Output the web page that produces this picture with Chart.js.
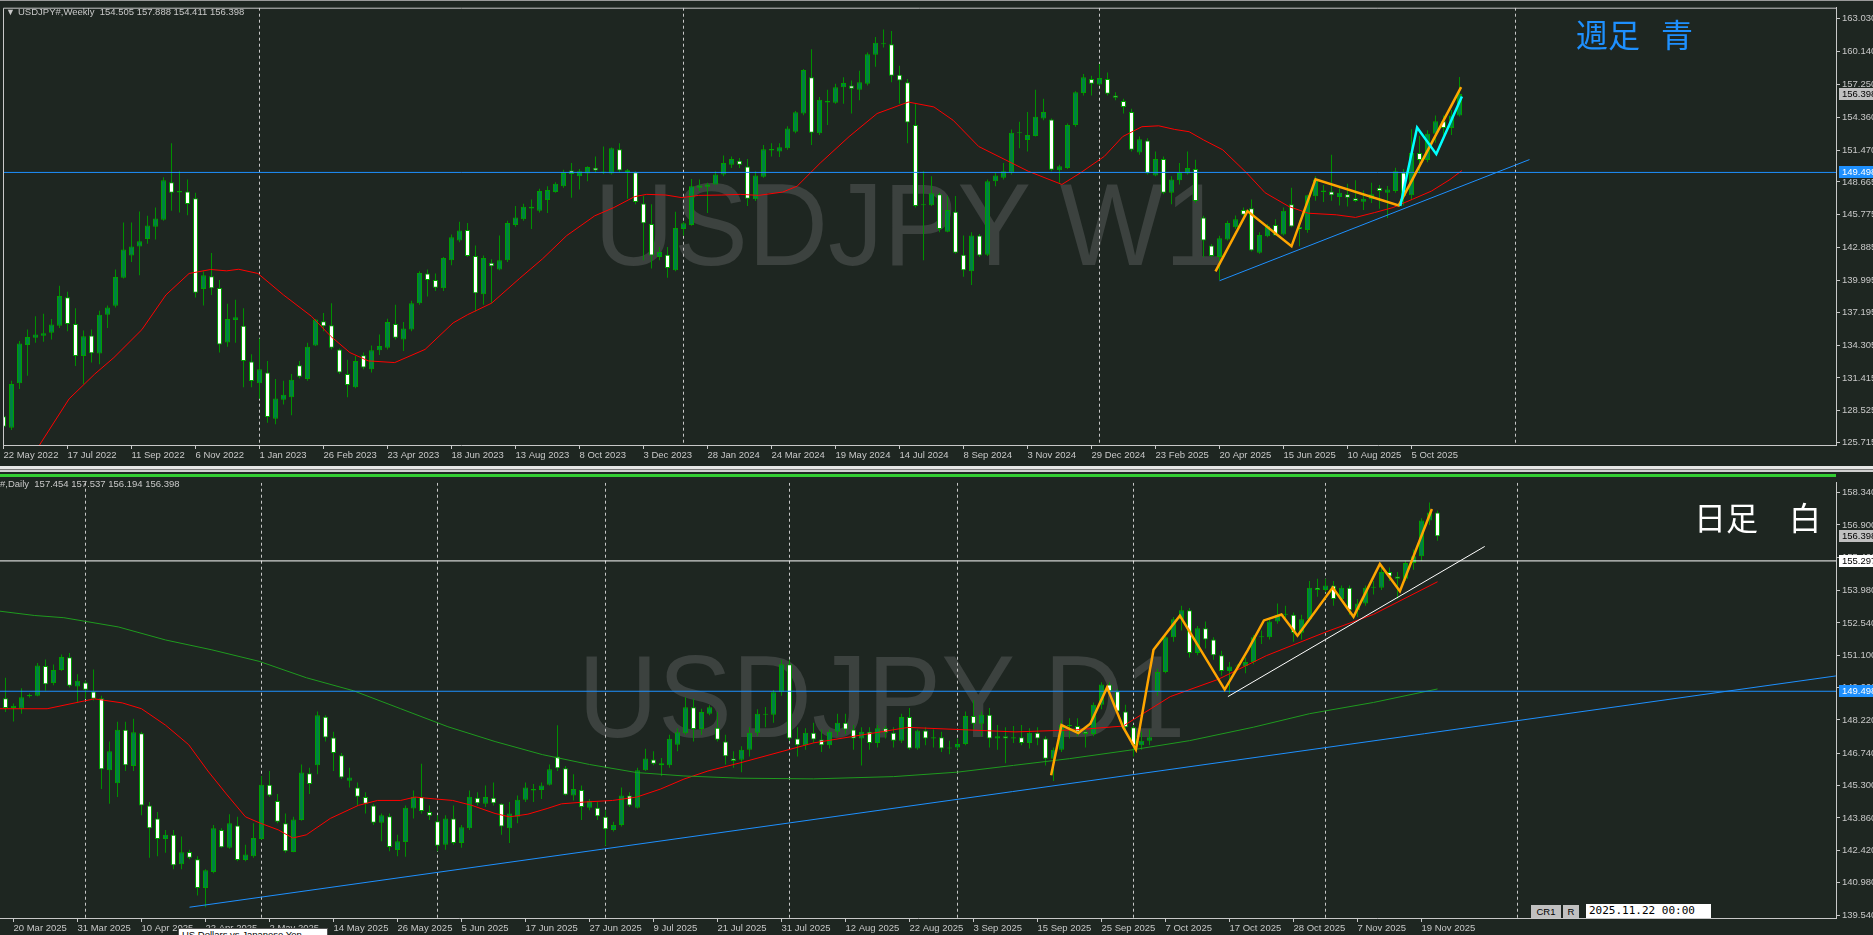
<!DOCTYPE html>
<html>
<head>
<meta charset="utf-8">
<script src="https://cdn.jsdelivr.net/npm/chart.js@4.4.1/dist/chart.umd.min.js"></script>
<style>
html, body { margin: 0; padding: 0; background: #1e2621; overflow: hidden; }
#wrap { position: relative; width: 1873px; height: 935px; background: #1e2621; overflow: hidden; }
canvas { position: absolute; left: 0; z-index: 1; }
.t { position: absolute; white-space: pre; z-index: 2; font-family: "Liberation Sans", Arial, sans-serif; font-size: 9.5px; line-height: 12px; color: #c8c8c8; }
.wm { position: absolute; white-space: pre; z-index: 0; font-family: "Liberation Sans", Arial, sans-serif; font-size: 116px; line-height: 116px; color: #3c423f; transform: scaleX(0.955); transform-origin: 0 0; }
.jp { position: absolute; white-space: pre; z-index: 2; font-family: "Noto Sans CJK JP", sans-serif; font-size: 32px; line-height: 32px; }
.bar { position: absolute; left: 0; z-index: 2; }
</style>
</head>
<body>
<div id="wrap">
  <div class="wm" style="left:594px; top:167px;">USDJPY W1</div>
  <div class="wm" style="left:578px; top:639px;">USDJPY D1</div>

  <canvas id="weekly" width="1873" height="465" style="top:0px;"></canvas>
  <canvas id="daily" width="1873" height="460" style="top:475px;"></canvas>

  <div class="bar" style="top:0px; width:1873px; height:1px; background:#9a9a9a;"></div>
  <div class="bar" style="top:466px; width:1873px; height:3px; background:#e6e6e6;"></div>
  <div class="bar" style="top:469px; width:1873px; height:1px; background:#7a7a7a;"></div>
  <div class="bar" style="top:470px; width:1873px; height:2px; background:#cfcfcf;"></div>
  <div class="bar" style="top:474px; width:1836px; height:3px; background:#32cd32;"></div>

  <div class="t" style="left:6px; top:6px; font-size:9px;">▼</div>
  <div class="t" style="left:18px; top:6px;">USDJPY#,Weekly  154.505 157.888 154.411 156.398</div>
  <div class="t" style="left:0px; top:478px;">#,Daily  157.454 157.537 156.194 156.398</div>

  <div class="jp" style="left:1576px; top:17px; color:#1e90ff;">週足</div>
  <div class="jp" style="left:1661px; top:17px; color:#1e90ff;">青</div>
  <div class="jp" style="left:1694px; top:500px; color:#ffffff;">日足</div>
  <div class="jp" style="left:1789px; top:500px; color:#ffffff;">白</div>

  <div class="t" style="left:1531px; top:905px; width:30px; height:13px; background:#c0c0c0; color:#000; text-align:center; line-height:13px;">CR1</div>
  <div class="t" style="left:1563px; top:905px; width:16px; height:13px; background:#c0c0c0; color:#000; text-align:center; line-height:13px;">R</div>
  <div class="t" style="left:1586px; top:904px; width:125px; height:14px; background:#ffffff; color:#000; font-family:'DejaVu Sans Mono', monospace; font-size:11px; line-height:14px; padding-left:3px; box-sizing:border-box;">2025.11.22 00:00</div>
  <div class="t" style="left:178px; top:928px; width:150px; height:14px; background:#ffffff; border:1px solid #555; color:#000; line-height:12px; padding-left:3px; box-sizing:border-box;">US Dollars vs Japanese Yen</div>
</div>

<script>
// ---- weekly candles (index 0 = week of 22 May 2022) ----
const wOpen = [128.05,127.03,130.95,134.31,134.95,135.12,135.39,136.02,138.52,136.17,
133.35,135.15,133.56,136.98,137.76,140.23,142.20,142.99,143.65,144.73,
145.34,148.64,147.74,147.83,147.22,139.24,140.37,139.33,134.54,136.52,
136.02,132.86,130.95,131.90,127.84,129.49,129.73,132.54,131.32,134.28,
136.40,136.05,133.93,131.76,130.60,133.41,132.19,133.85,134.08,136.17,
134.80,135.67,137.99,140.61,140.03,139.30,141.77,143.51,144.44,142.14,
138.78,141.56,140.96,141.77,144.87,145.39,146.47,146.12,147.08,147.77,
148.29,149.66,149.17,149.40,149.92,149.57,149.40,151.54,149.54,149.51,
146.76,144.96,142.06,142.26,140.90,144.52,144.87,148.15,148.23,148.44,
149.31,150.18,150.53,150.03,147.13,149.11,151.43,151.34,151.63,153.08,
154.68,157.87,152.94,155.66,155.63,156.99,157.14,156.77,157.29,159.84,
160.77,160.77,158.10,157.43,153.66,146.61,146.61,147.57,144.29,146.03,
142.26,140.81,143.94,142.26,148.73,149.02,149.46,152.94,152.36,152.70,
154.24,154.15,149.69,149.89,153.66,156.48,157.72,157.23,157.72,156.27,
155.78,154.82,151.25,152.30,149.22,150.67,147.71,148.81,149.40,149.80,
145.54,143.07,142.06,143.59,144.67,146.20,146.34,142.43,143.88,144.87,
144.04,146.70,144.70,144.44,147.40,147.90,147.83,147.33,147.57,147.22,
146.93,147.13,148.15,147.70,147.86,149.50,147.50,151.20,150.60,152.90,
154.00,153.40,154.505];
const wHigh = [128.29,131.18,134.66,135.67,136.84,137.07,136.60,139.53,139.01,137.56,
135.59,135.67,137.33,137.79,140.96,145.10,145.10,146.06,145.68,146.41,
149.08,152.07,149.60,148.87,147.71,140.81,142.41,140.03,137.94,138.29,
137.56,133.50,134.89,132.92,131.32,131.18,131.76,132.92,134.51,136.60,
137.13,137.99,134.02,133.01,133.35,133.65,134.28,135.24,136.63,137.85,
136.34,138.20,140.81,140.96,140.61,142.06,144.03,145.16,145.05,143.07,
142.20,141.85,143.94,145.25,146.55,146.75,147.12,148.06,148.29,148.64,
149.74,150.33,149.80,150.04,150.91,151.78,151.69,152.07,149.80,149.60,
147.42,146.70,142.93,142.93,146.03,145.16,148.93,148.87,148.58,149.60,
150.99,150.91,150.76,150.67,149.60,151.92,152.07,152.07,153.57,154.91,
158.59,160.33,156.13,156.77,157.29,157.87,157.58,158.45,160.04,161.41,
162.07,161.93,158.88,157.72,155.55,149.60,149.17,147.71,147.42,147.42,
143.94,144.23,144.09,148.87,149.46,150.33,153.28,153.95,154.82,156.77,
155.98,154.24,150.18,153.81,156.65,158.16,158.01,159.03,158.30,156.56,
155.98,155.11,152.65,152.50,151.34,150.91,149.17,150.33,151.34,150.62,
145.68,143.20,143.92,145.25,145.70,146.41,147.12,144.23,144.96,145.39,
146.41,148.15,145.30,147.54,149.17,148.40,151.05,148.10,148.50,148.80,
147.90,148.60,148.40,148.30,149.90,149.80,153.30,152.70,153.20,154.50,
154.50,155.00,157.888];
const wLow = [126.54,126.83,130.45,131.61,134.51,134.60,134.80,135.82,135.53,132.48,
130.89,132.77,132.63,135.82,137.62,140.17,141.62,140.46,143.22,143.59,
145.25,146.12,145.97,145.74,138.49,137.79,138.72,133.65,134.16,134.51,
130.60,130.60,129.58,127.47,127.35,129.09,128.13,131.38,131.18,134.22,
135.53,133.93,131.76,129.73,130.51,132.19,131.90,133.44,133.93,134.80,
133.79,135.53,137.85,138.58,139.07,139.07,141.33,143.36,142.06,137.27,
137.85,137.99,140.90,141.62,144.73,145.25,144.52,145.97,145.92,147.71,
148.15,147.28,148.00,148.73,149.46,149.37,149.31,149.46,147.19,146.70,
141.77,141.04,141.77,140.23,140.81,143.94,144.81,147.86,145.92,148.44,
149.17,149.89,149.89,146.55,146.99,149.02,150.91,150.85,151.49,152.94,
154.53,151.92,152.79,153.66,155.55,155.55,154.68,155.84,157.14,158.80,
160.48,157.43,155.55,152.07,146.41,141.77,146.55,144.23,144.23,142.35,
140.32,139.59,142.06,142.14,148.29,148.87,149.31,151.63,151.34,152.65,
154.09,149.60,148.58,149.80,153.52,156.27,156.27,157.14,156.27,155.84,
154.68,151.34,151.05,149.31,149.17,147.57,146.70,148.44,149.31,146.84,
142.06,142.06,140.03,143.51,144.52,145.68,142.55,142.35,143.80,143.94,
143.94,144.67,143.00,144.20,147.00,146.90,147.00,146.60,146.50,146.90,
146.20,146.80,146.30,145.50,147.70,146.60,147.10,149.40,150.40,152.10,
152.80,152.80,154.411];
const wClose = [127.12,130.89,134.46,135.01,135.24,135.36,136.11,138.63,136.17,133.35,
135.09,133.59,136.98,137.62,140.29,142.72,142.99,143.45,144.84,145.45,
148.82,147.71,147.86,146.73,138.92,140.46,139.30,134.37,136.60,136.75,
132.92,131.15,132.19,127.99,129.60,129.93,131.26,131.53,134.16,136.55,
135.96,134.08,131.90,130.80,132.92,132.34,133.85,134.22,136.34,134.95,
135.76,137.99,140.66,140.03,139.36,141.97,143.80,144.38,142.14,138.87,
141.97,141.24,141.77,145.05,145.54,146.49,146.32,147.86,147.95,148.50,
149.45,149.37,149.60,149.98,149.66,149.46,151.63,149.66,149.69,146.90,
145.02,142.20,142.49,141.10,144.61,145.02,148.29,148.35,148.44,149.31,
150.33,150.67,150.18,147.19,149.22,151.54,151.57,151.72,153.37,154.79,
158.51,152.99,155.90,155.78,156.99,157.37,156.85,157.43,159.90,160.91,
160.83,158.01,157.58,153.89,146.55,146.70,147.66,144.52,146.20,142.43,
140.90,143.94,142.20,148.73,149.22,149.60,152.99,152.99,152.79,154.39,
154.82,149.74,150.04,153.66,156.56,157.87,157.29,157.81,156.42,156.07,
155.26,151.49,152.41,149.40,150.67,147.71,148.87,149.45,149.89,146.99,
143.51,142.14,143.71,145.05,145.39,145.77,142.64,144.00,144.81,143.94,
146.12,144.75,144.50,147.48,148.88,147.77,147.48,147.70,147.28,146.99,
147.19,147.57,147.86,148.00,149.60,147.40,151.20,150.60,152.90,154.00,
153.40,154.50,156.398];

// weekly moving average (red) as [bar, price]
const wMA = [[2,122.8],[4.5,125.52],[8.2,129.58],[11.4,131.76],[13.8,133.21],[17.3,135.67],[20.3,138.72],
[23.2,140.61],[25.9,140.96],[27.9,140.84],[29.4,140.98],[31.8,140.61],[35,138.72],[38.5,136.84],
[40.9,135.09],[43.3,133.65],[45.6,132.92],[48.9,132.77],[52.7,133.93],[56.2,136.26],[58,136.98],
[61,137.99],[64.5,140.17],[67.4,141.91],[70.4,143.94],[73.9,145.68],[76.3,146.41],[78.9,147.37],
[80.4,147.57],[82.8,147.51],[84.8,147.28],[86.9,147.48],[89.8,147.51],[92.1,147.57],[94.4,147.48],
[97.4,147.77],[99.2,148.29],[102.1,150.33],[105.7,152.65],[109.2,154.68],[113.1,155.69],[116.3,155.26],
[118.7,154.09],[121.9,151.78],[125.2,150.62],[128.1,149.60],[132.3,148.44],[134.6,149.45],[137.6,150.91],
[139.9,152.65],[142.3,153.52],[144.4,153.60],[146.4,153.28],[148.2,153.08],[150,152.36],[152.4,151.49],
[155.4,149.45],[157.7,147.71],[160.7,146.49],[163.1,145.91],[166.6,145.77],[169,145.54],[171.4,145.97],
[173.7,146.41],[176.1,147.13],[178.5,147.86],[180.8,148.87],[182.3,149.66]];
const wZigOrange = [[151.5,140.8],[155.5,146.1],[161.0,143.0],[164.0,148.9],[174.4,146.6],[182.2,157.0]];
const wZigCyan = [[174.6,146.55],[176.7,153.46],[179.1,151.11],[182.3,156.18]];
const wTrend = [[152,139.97],[190.75,150.63]];
const wTickIdx = [0,8,16,24,32,40,48,56,64,72,80,88,96,104,112,120,128,136,144,152,160,168,176];
const wTickLabels = ['22 May 2022','17 Jul 2022','11 Sep 2022','6 Nov 2022','1 Jan 2023','26 Feb 2023',
'23 Apr 2023','18 Jun 2023','13 Aug 2023','8 Oct 2023','3 Dec 2023','28 Jan 2024','24 Mar 2024',
'19 May 2024','14 Jul 2024','8 Sep 2024','3 Nov 2024','29 Dec 2024','23 Feb 2025','20 Apr 2025',
'15 Jun 2025','10 Aug 2025','5 Oct 2025'];
const wPriceTicks = [163.030,160.140,157.250,154.360,151.470,148.665,145.775,142.885,139.995,137.195,134.305,131.415,128.525,125.715];
const wYearGrid = [32,85,137,189];

// ---- daily candles (index 0 = bar labelled 20 Mar 2025, first bar is -1) ----
const dStart = -1;
const dOpen = [149.19,148.75,148.72,149.28,149.30,150.62,149.86,150.44,151.01,149.71,
149.89,149.49,149.19,145.98,145.40,147.78,146.17,147.63,144.42,143.84,
142.92,143.11,141.80,142.35,142.02,140.74,141.46,143.33,142.53,143.52,
141.99,142.16,142.93,145.34,144.61,143.62,142.35,143.77,145.85,146.21,
148.36,147.44,146.65,145.52,145.22,144.79,144.42,143.65,143.94,142.43,
142.79,144.28,144.79,144.13,143.72,142.67,143.84,142.75,143.40,144.76,
144.49,144.76,144.49,143.40,143.91,144.67,145.15,145.11,145.34,146.59,
146.07,144.86,145.11,144.32,144.31,143.91,143.33,143.55,144.86,144.32,
145.98,146.46,146.30,146.21,147.12,147.63,148.79,147.82,148.50,147.88,
147.26,146.51,
146.45,146.90,147.65,148.50,148.45,149.45,150.70,147.40,147.10,147.65,
147.35,147.10,147.70,148.10,147.80,147.40,147.70,147.20,147.85,147.65,
147.30,148.35,146.95,147.75,147.40,147.45,146.95,147.00,147.15,148.40,
148.05,148.45,147.40,147.50,147.40,147.45,147.20,147.65,147.40,146.50,
146.90,148.00,147.95,147.70,147.60,148.90,149.80,149.50,148.60,147.90,
147.10,147.30,149.50,150.35,151.90,152.70,153.10,151.20,152.30,151.80,
151.10,150.40,150.60,150.62,150.80,151.90,151.90,152.60,152.90,152.90,
152.10,152.70,154.10,154.00,154.20,153.60,154.10,153.10,153.40,154.10,
154.10,154.80,154.60,154.50,155.20,155.50,157.10,157.454];
const dHigh = [150.10,148.95,149.63,149.40,150.76,150.91,150.69,151.13,151.20,150.25,
149.96,150.47,149.30,147.26,148.14,148.14,148.28,147.70,144.57,144.13,
143.33,143.33,143.04,142.45,142.16,141.58,143.55,143.40,144.03,143.91,
142.67,143.62,145.73,145.95,144.93,144.06,143.91,146.24,146.10,148.60,
148.43,147.70,146.75,146.10,145.44,145.00,144.49,144.06,144.06,143.11,
144.42,145.08,146.27,144.42,143.98,143.98,144.42,143.55,145.08,145.00,
145.30,145.44,144.52,144.57,144.86,145.44,145.37,145.44,146.24,147.99,
146.17,145.81,145.30,144.71,144.57,144.20,143.69,145.22,145.00,146.10,
146.94,146.83,146.53,147.56,147.85,149.23,149.16,148.72,148.87,148.58,
147.56,146.83,
147.05,147.90,148.70,148.80,149.55,150.90,150.90,147.90,147.85,148.10,
147.80,147.80,148.50,148.50,148.00,147.90,147.90,148.00,147.95,147.90,
148.50,148.75,147.80,147.90,147.80,147.70,147.30,147.40,148.60,149.10,
148.60,148.75,148.00,147.90,147.95,148.00,147.85,147.90,147.50,147.00,
148.20,148.30,148.30,147.90,149.00,149.90,149.90,149.60,148.90,148.00,
147.70,147.80,150.50,152.00,152.80,153.30,153.20,152.40,152.60,151.90,
151.30,150.80,150.70,151.00,152.00,152.20,152.70,153.40,153.30,153.00,
152.90,154.40,154.50,154.50,154.40,154.20,154.20,153.60,154.20,154.40,
155.00,155.00,154.80,155.30,155.80,157.20,157.90,157.537];
const dLow = [148.58,148.15,148.50,149.22,149.28,149.52,149.77,150.40,149.67,149.01,
149.16,149.09,145.15,144.49,144.79,145.95,145.95,143.98,142.09,142.16,
142.31,141.58,141.58,142.02,140.41,139.89,141.40,142.53,142.49,141.94,
141.94,142.09,142.89,144.79,143.62,142.31,142.34,143.74,144.93,145.81,
147.26,145.95,145.59,145.22,144.42,144.06,143.55,142.82,142.38,142.16,
142.13,143.84,144.06,143.77,142.38,142.45,142.67,142.53,143.33,144.42,
144.35,144.42,143.11,142.75,143.62,144.57,144.57,144.71,145.30,145.95,
144.86,144.64,143.77,144.20,143.77,142.63,143.26,143.48,144.35,144.28,
145.95,146.21,145.73,146.10,146.83,147.56,147.26,147.56,148.43,147.26,
146.24,146.10,
145.90,146.60,147.50,147.90,148.10,149.30,147.30,146.60,146.90,147.20,
146.80,146.95,147.50,147.60,146.90,146.20,146.90,147.00,147.40,147.00,
147.20,146.90,146.90,147.10,147.00,146.80,146.70,146.90,147.10,147.80,
147.50,147.00,146.90,146.30,147.20,147.10,146.95,147.10,146.20,145.50,
146.80,147.40,147.50,147.00,147.50,148.70,149.30,148.50,147.70,146.60,
146.90,147.10,149.30,150.30,151.70,152.20,151.00,151.10,151.40,150.90,
150.20,149.40,150.55,150.30,150.70,151.60,151.80,152.50,152.70,151.70,
151.80,152.60,153.70,153.90,153.30,153.50,152.90,152.80,153.30,153.80,
154.00,154.40,153.60,154.40,154.90,155.30,156.90,156.194];
const dClose = [148.75,148.85,149.23,149.33,150.64,149.81,150.44,151.02,149.74,149.96,
149.57,149.16,146.03,146.83,147.78,146.21,147.67,144.42,143.40,142.93,
143.11,141.76,142.34,142.09,140.75,141.54,143.40,142.56,143.62,141.99,
142.23,142.97,145.34,144.86,143.69,142.38,143.79,145.88,145.37,148.43,
147.44,146.75,145.66,145.66,144.81,144.49,143.65,143.98,142.57,142.82,
144.31,144.81,144.17,143.96,142.63,143.84,142.75,143.45,144.81,144.52,
144.79,144.52,143.48,144.06,144.67,145.22,145.08,145.30,146.03,146.07,
144.89,145.15,144.35,144.61,143.94,143.36,143.55,144.86,144.42,145.98,
146.51,146.27,146.21,147.38,147.67,148.79,147.82,148.58,148.79,147.34,
146.61,146.39,
146.90,147.65,148.50,148.45,149.45,150.70,147.40,147.10,147.65,147.35,
147.10,147.70,148.10,147.80,147.40,147.70,147.20,147.85,147.65,147.30,
148.35,146.95,147.75,147.40,147.45,146.95,147.00,147.15,148.40,148.05,
148.45,147.40,147.50,147.40,147.45,147.20,147.65,147.40,146.50,146.90,
148.00,147.95,147.70,147.60,148.90,149.80,149.50,148.60,147.90,147.10,
147.30,147.45,150.35,151.90,152.70,153.10,151.20,152.30,151.80,151.10,
150.40,150.60,150.62,150.80,151.90,151.90,152.60,152.90,152.90,152.10,
152.70,154.10,154.00,154.20,153.60,154.10,153.10,153.40,154.10,154.10,
154.80,154.60,154.50,155.20,155.50,157.10,157.45,156.398];

const dMAred = [[-1.7,148.72],[4.2,148.72],[10.1,149.16],[13.6,148.98],[16,148.72],[19,147.99],[21.9,147.12],
[24.3,145.95],[26.6,144.93],[29,143.91],[30.7,143.65],[33.1,143.33],[34.9,142.97],[36.6,143.11],[39.6,143.84],
[43.1,144.42],[45.5,144.64],[48.4,144.64],[50.2,144.79],[52.6,144.71],[54.9,144.64],[57.3,144.42],[60.2,144.06],
[62,143.91],[64.3,144.03],[66.7,144.28],[68.5,144.49],[71.4,144.57],[74.9,144.64],[77.9,144.79],[80.9,145.15],
[83.8,145.59],[86.8,145.95],[90.8,146.31],[100,147.2],[111.8,147.89],[125.2,147.69],[132.7,147.78],
[138.7,147.95],[144.6,149.26],[150.6,150.03],[156.6,151.08],[164,152.13],[170,152.92],[178,154.37]];
const dMAgreen = [[-1.7,153.06],[2.6,152.87],[6.3,152.77],[13.1,152.36],[19,151.78],[24.8,151.34],[30.7,150.83],
[36.6,150.10],[42.5,149.52],[48.4,148.72],[54.3,147.92],[60.2,147.26],[66.1,146.68],[72,146.24],[77.9,145.88],
[83.8,145.73],[90.8,145.63],[100,145.6],[110,145.7],[118,145.9],[125,146.2],[132,146.5],[140,146.9],
[147,147.3],[155,147.9],[162,148.5],[170,149.0],[178,149.6]];
const dZigOrange = [[129.7,145.76],[131.0,147.99],[133.1,147.64],[134.6,148.05],[136.7,149.67],[138.7,147.90],
[140.3,146.90],[142.5,151.34],[145.8,152.86],[151.4,149.57],[154.3,151.34],[156.3,152.65],[158.5,152.91],
[160.5,151.97],[164.9,154.11],[167.5,152.81],[170.8,155.16],[173.3,153.95],[177.3,157.61]];
const dTrendWhite = [[151.8,149.26],[183.9,155.94]];
const dTrendBlue = [[22,139.89],[227.8,150.18]];
const dTickIdx = [0,8,16,24,32,40,48,56,64,72,80,88,96,104,112,120,128,136,144,152,160,168,176];
const dTickLabels = ['20 Mar 2025','31 Mar 2025','10 Apr 2025','22 Apr 2025','2 May 2025','14 May 2025',
'26 May 2025','5 Jun 2025','17 Jun 2025','27 Jun 2025','9 Jul 2025','21 Jul 2025','31 Jul 2025',
'12 Aug 2025','22 Aug 2025','3 Sep 2025','15 Sep 2025','25 Sep 2025','7 Oct 2025','17 Oct 2025',
'28 Oct 2025','7 Nov 2025','19 Nov 2025'];
const dPriceTicks = [158.340,156.900,155.460,153.980,152.540,151.100,149.660,148.220,146.740,145.300,143.860,142.420,140.980,139.540];
const dMonthGrid = [9,31,53,74,97,118,140,164,188];

const lastPrice = 156.398;
const blueLevel = 149.498;
const whiteLevel = 155.297;

// ---- styling ----
const AX = '#c8c8c8';
const FONT = '"Liberation Sans", Arial, sans-serif';
const FSIZE = 9.5;
const BULL = '#007f46', BEAR = '#ffffff', EDGE = '#00a000', WICK = '#009000';

function candles(o, h, l, c, start) {
  const body = [], wick = [], fill = [];
  for (let k = 0; k < o.length; k++) {
    body.push({x: start + k, y: [o[k], c[k]]});
    wick.push({x: start + k, y: [l[k], h[k]]});
    fill.push(c[k] >= o[k] ? BULL : BEAR);
  }
  return [
    {type: 'bar', data: wick, backgroundColor: WICK, barThickness: 1, grouped: false,
     inflateAmount: 0, borderWidth: 0, order: 5},
    {type: 'bar', data: body, backgroundColor: fill, borderColor: EDGE, borderWidth: 1,
     borderSkipped: false, barThickness: 5, grouped: false, minBarLength: 1, inflateAmount: 0, order: 4}
  ];
}

function line(pts, color, width, order) {
  return {type: 'line', data: pts.map(p => ({x: p[0], y: p[1]})), borderColor: color,
          borderWidth: width, pointRadius: 0, tension: 0, fill: false, order: order};
}

const mt4 = {
  id: 'mt4',
  beforeDatasetsDraw(chart, args, o) {
    const {ctx, chartArea: a} = chart;
    const x = chart.scales.x;
    ctx.save();
    ctx.beginPath();
    ctx.rect(a.left, a.top, a.right - a.left, a.bottom - a.top);
    ctx.clip();
    ctx.strokeStyle = AX;
    ctx.lineWidth = 1;
    ctx.setLineDash([3, 3]);
    o.grid.forEach(v => {
      const px = Math.floor(x.getPixelForValue(v)) + 0.5;
      ctx.beginPath();
      ctx.moveTo(px, a.top);
      ctx.lineTo(px, a.bottom);
      ctx.stroke();
    });
    ctx.restore();
  },
  afterDraw(chart, args, o) {
    const {ctx, chartArea: a} = chart;
    const y = chart.scales.y;
    ctx.save();
    if (o.frame) {
      ctx.strokeStyle = AX;
      ctx.lineWidth = 1;
      ctx.beginPath();
      ctx.moveTo(a.left + 0.5, a.bottom);
      ctx.lineTo(a.left + 0.5, a.top + 0.5);
      ctx.lineTo(a.right, a.top + 0.5);
      ctx.stroke();
    }
    ctx.font = FSIZE + 'px ' + FONT;
    ctx.textBaseline = 'middle';
    o.boxes.forEach(b => {
      const py = Math.round(y.getPixelForValue(b.v));
      ctx.fillStyle = b.bg;
      ctx.fillRect(a.right + 3, py - 6, 40, 12);
      ctx.fillStyle = b.fg;
      ctx.fillText(b.v.toFixed(3), a.right + 6, py + 0.5);
    });
    ctx.restore();
  }
};

function build(id, cfg) {
  return new Chart(document.getElementById(id), {
    type: 'bar',
    data: {datasets: cfg.datasets},
    options: {
      responsive: false, animation: false, devicePixelRatio: 1, events: [],
      layout: {padding: cfg.padding},
      plugins: {legend: {display: false}, tooltip: {enabled: false},
                mt4: {grid: cfg.grid, boxes: cfg.boxes, frame: cfg.frame}},
      scales: {
        x: {
          type: 'linear', min: cfg.xMin, max: cfg.xMax, offset: false,
          grid: {offset: false, drawOnChartArea: false, drawTicks: true, tickLength: 4, color: AX},
          border: {display: true, color: AX},
          ticks: {autoSkip: false, maxRotation: 0, minRotation: 0, align: 'start', padding: 1,
                  color: AX, font: {family: FONT, size: FSIZE},
                  callback: (v, i) => cfg.tickLabels[i]},
          afterBuildTicks: s => { s.ticks = cfg.tickIdx.map(v => ({value: v})); },
          afterFit: s => { s.height = cfg.xHeight; }
        },
        y: {
          type: 'linear', position: 'right', min: cfg.yMin, max: cfg.yMax, beginAtZero: false,
          grid: {drawOnChartArea: false, drawTicks: true, tickLength: 4, color: AX},
          border: {display: true, color: AX},
          ticks: {autoSkip: false, padding: 2, color: AX, font: {family: FONT, size: FSIZE},
                  callback: v => v.toFixed(3)},
          afterBuildTicks: s => { s.ticks = cfg.yTicks.map(v => ({value: v})); },
          afterFit: s => { s.width = 37; }
        }
      }
    },
    plugins: [mt4]
  });
}

// weekly panel: bar k centred at x = 3.5 + 8k
const wMin = -0.0625, wMax = wMin + 1833 / 8;
build('weekly', {
  padding: {left: 3, top: 3, right: 0, bottom: 0},
  xMin: wMin, xMax: wMax, xHeight: 20,
  yMin: 125.52, yMax: 163.99,
  tickIdx: wTickIdx, tickLabels: wTickLabels, yTicks: wPriceTicks,
  grid: wYearGrid, frame: true,
  boxes: [{v: lastPrice, bg: '#c0c0c0', fg: '#000000'}, {v: blueLevel, bg: '#1e90ff', fg: '#ffffff'}],
  datasets: [
    ...candles(wOpen, wHigh, wLow, wClose, 0),
    line(wMA, '#ff0000', 1, 3),
    line([[wMin, blueLevel], [wMax, blueLevel]], '#1e90ff', 1, 2),
    line(wTrend, '#1e90ff', 1, 2),
    line(wZigOrange, '#ffa500', 2.5, 1),
    line(wZigCyan, '#00ffff', 2.5, 0)
  ]
});

// daily panel: bar k centred at x = 13.5 + 8k
const dMin = -13.5 / 8, dMax = dMin + 1836 / 8;
build('daily', {
  padding: {left: 0, top: 0, right: 0, bottom: 0},
  xMin: dMin, xMax: dMax, xHeight: 17,
  yMin: 139.41, yMax: 158.777,
  tickIdx: dTickIdx, tickLabels: dTickLabels, yTicks: dPriceTicks,
  grid: dMonthGrid, frame: false,
  boxes: [{v: lastPrice, bg: '#c0c0c0', fg: '#000000'}, {v: whiteLevel, bg: '#ffffff', fg: '#000000'},
          {v: blueLevel, bg: '#1e90ff', fg: '#ffffff'}],
  datasets: [
    ...candles(dOpen, dHigh, dLow, dClose, dStart),
    line(dMAgreen, '#1f9a1f', 1, 3),
    line(dMAred, '#ff0000', 1, 3),
    line([[dMin, blueLevel], [dMax, blueLevel]], '#1e90ff', 1, 2),
    line([[dMin, whiteLevel], [dMax, whiteLevel]], '#ffffff', 1, 2),
    line(dTrendBlue, '#1e90ff', 1, 2),
    line(dTrendWhite, '#ffffff', 1, 1),
    line(dZigOrange, '#ffa500', 2.5, 0)
  ]
});
</script>
</body>
</html>
